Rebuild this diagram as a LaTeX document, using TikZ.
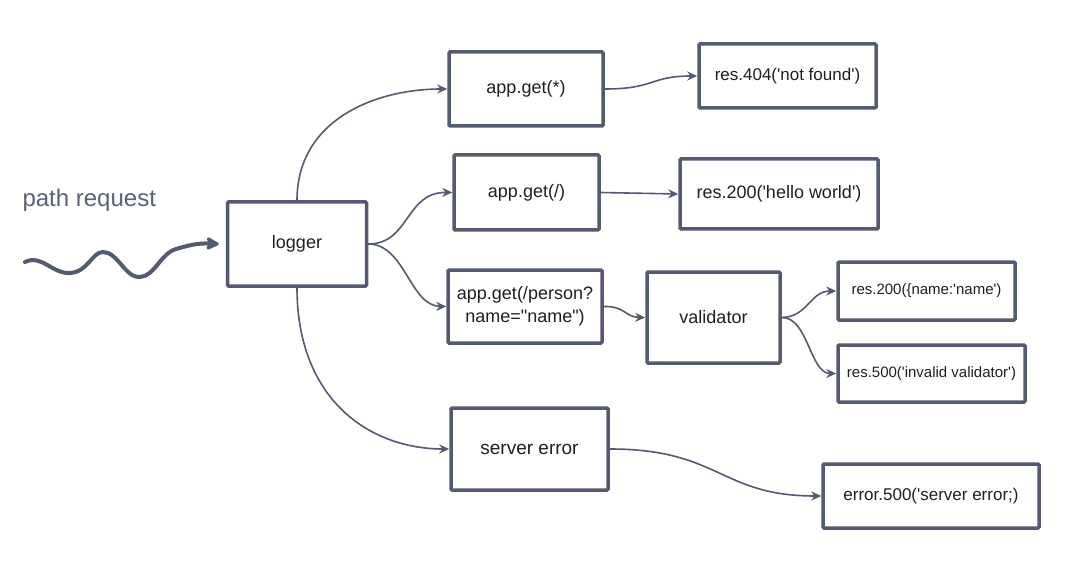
\documentclass[tikz,border=0pt]{standalone}
\usepackage{fontspec}
\setmainfont{Liberation Sans}[Ligatures=TeXOff]
\usetikzlibrary{arrows.meta}
\definecolor{lc}{HTML}{535A72}
\definecolor{tc}{HTML}{1F1F24}
\definecolor{pc}{HTML}{5A6178}
\begin{document}
\begin{tikzpicture}[x=1pt,y=-1pt,
  box/.style={draw=lc, line width=3.5pt, rounded corners=1pt, inner sep=0pt, text=tc, align=center, font=\fontsize{18}{22}\selectfont},
  conn/.style={draw=lc, line width=1.6pt, -{Stealth[length=10pt,width=9pt]}},
]
\fill[white] (0,0) rectangle (1071,572);
\useasboundingbox (0,0) rectangle (1071,572);

\node[text=pc, font=\fontsize{24}{28}\selectfont, anchor=base west] (pr) at (19,207) {path request};

\node[box, minimum width=139pt, minimum height=84pt] (logger) at (297,244) {logger};
\node[box, minimum width=154pt, minimum height=74pt] (appstar) at (526,89) {app.get(*)};
\node[box, minimum width=177pt, minimum height=64pt, font=\fontsize{17}{20}\selectfont] (r404) at (787.5,76) {res.404('not found')};
\node[box, minimum width=145pt, minimum height=75pt] (appslash) at (526.5,192.5) {app.get(/)};
\node[box, minimum width=198pt, minimum height=70pt] (r200hw) at (779,194) {res.200('hello world')};
\node[box, minimum width=154pt, minimum height=73pt, font=\fontsize{18}{23}\selectfont] (person) at (525,306.5) {app.get(/person?\\name="name")};
\node[box, minimum width=133pt, minimum height=91pt] (valid) at (713.5,317.5) {validator};
\node[box, minimum width=177pt, minimum height=58pt, font=\fontsize{15}{18}\selectfont] (r200n) at (926.5,291) {res.200(\{name:'name')};
\node[box, minimum width=187pt, minimum height=57pt, font=\fontsize{15}{18}\selectfont] (r500) at (931.5,373.5) {res.500('invalid validator')};
\node[box, minimum width=157pt, minimum height=82pt, font=\fontsize{19}{22}\selectfont] (serr) at (529.5,449) {server error};
\node[box, minimum width=216pt, minimum height=64pt, font=\fontsize{17}{20}\selectfont] (e500) at (931,496) {error.500('server error;)};

% squiggle
\draw[draw=lc, line width=4pt, line cap=round, -{Stealth[length=15pt,width=15pt,inset=3pt,round]}]
  (25,262) .. controls (42,254) and (52,274) .. (70,273)
  .. controls (88,272) and (92,252) .. (103,252)
  .. controls (118,252) and (125,278) .. (140,277)
  .. controls (155,276) and (160,254) .. (176,249)
  .. controls (190,245) and (198,243) .. ([xshift=-7pt]logger.west);

% connectors
\draw[conn] (logger.north) .. controls (297,120) and (375,89) .. (appstar.west);
\draw[conn] (logger.east) .. controls (410,244) and (405,192) .. (appslash.west);
\draw[conn] (logger.east) .. controls (405,244) and (410,306) .. (person.west);
\draw[conn] (logger.south) .. controls (297,400) and (370,449) .. (serr.west);
\draw[conn] (appstar.east) .. controls (655,89) and (650,76) .. (r404.west);
\draw[conn] (appslash.east) -- (r200hw.west);
\draw[conn] (person.east) .. controls (625,306) and (625,317) .. (valid.west);
\draw[conn] (valid.east) .. controls (808,317) and (810,291) .. (r200n.west);
\draw[conn] (valid.east) .. controls (808,317) and (810,373.5) .. (r500.west);
\draw[conn] (serr.east) .. controls (720,449) and (720,496) .. (e500.west);
\end{tikzpicture}
\end{document}
